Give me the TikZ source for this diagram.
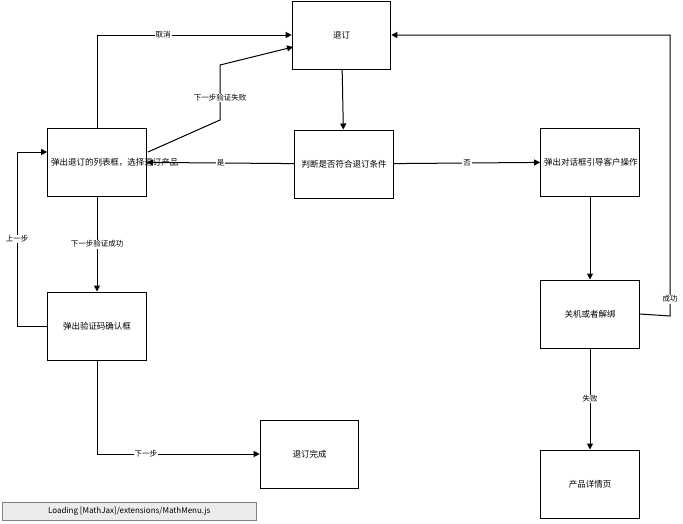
\documentclass[tikz,border=0pt]{standalone}
\usepackage{fontspec}
\setmainfont{Noto Sans CJK SC}
\usetikzlibrary{arrows.meta,positioning}
\tikzset{
	box/.style={draw, line width=1pt, minimum width=97pt, minimum height=68pt, text width=92pt, align=center, font=\fontsize{8.5}{12}\selectfont},
	link/.style={line width=1pt, -{Triangle[length=6pt,width=6pt]}},
	lab/.style={fill=white, inner sep=1pt, font=\fontsize{7.5}{9}\selectfont}
}
\begin{document}
\begin{tikzpicture}[x=1pt, y=-1pt]
		\useasboundingbox (0,0) rectangle (683,523);
		% boxes
		\node[box] (tuiding) at (341.5,35) {退订};
		\node[box] (liebiao) at (97,162) {弹出退订的列表框，选择退订产品};
		\node[box] (panduan) at (344,164) {判断是否符合退订条件};
		\node[box] (duihua) at (590,162) {弹出对话框引导客户操作};
		\node[box] (yanzheng) at (97,326) {弹出验证码确认框};
		\node[box] (guanji) at (590,314) {关机或者解绑};
		\node[box] (wancheng) at (309.5,454) {退订完成};
		\node[box] (xiangqing) at (590,484) {产品详情页};
		
		% corners
		\coordinate (c1) at (670,316);
		\coordinate (c2) at (670,35);
		\coordinate (c3) at (220,120);
		\coordinate (c4) at (220,65);
		
		% links
		\draw[link] (tuiding) -- (panduan);
		\draw[link] (panduan) -- node[lab]{是} (liebiao);
		\draw[link] (panduan) -- node[lab]{否} (duihua);
		\draw[link] (duihua) -- (guanji);
		\draw[link] (guanji.east) -- (c1) -- node[lab, pos=0.06]{成功} (c2) -- (tuiding.east);
		\draw[link] (guanji) -- node[lab]{失败} (xiangqing);
		\draw[link] (liebiao.north) |- node[lab, pos=0.67]{取消} (tuiding.west);
		\draw[link] (148,152) -- (c3) -- node[lab, pos=0.4]{下一步验证失败} (c4) -- (293,47);
		\draw[link] (liebiao) -- node[lab]{下一步验证成功} (yanzheng);
		\draw[link] (yanzheng.west) -- (17,326) -- node[lab]{上一步} (17,152) -- (liebiao.west |- 0,152);
		\draw[link] (yanzheng.south) |- node[lab, pos=0.65]{下一步} (wancheng.west);
		
		% loading notice
		\node[draw=gray, fill=gray!15, anchor=north west, minimum width=254pt, minimum height=18pt, inner sep=2pt, font=\fontsize{8}{10}\selectfont] (loading) at (2,502) {Loading [MathJax]/extensions/MathMenu.js\hfill};
\end{tikzpicture}
\end{document}
